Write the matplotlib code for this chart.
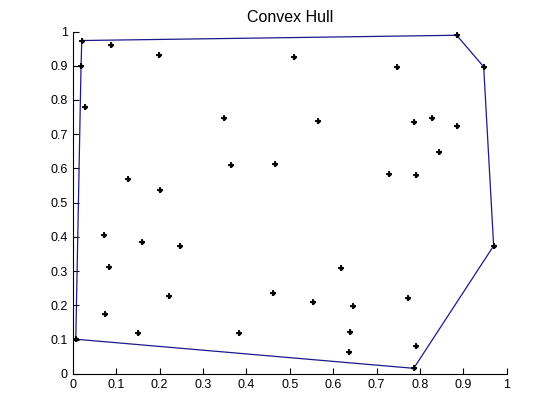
import numpy as np
import matplotlib
matplotlib.use("Agg")
import matplotlib.pyplot as plt

x = [0.0207, 0.019, 0.088, 0.028, 0.199, 0.3475, 0.364, 0.127, 0.200,
     0.8845, 0.9467, 0.509, 0.746, 0.5646, 0.7856, 0.827, 0.8845, 0.8447, 0.465, 0.728, 0.790,
     0.0069, 0.072, 0.1596, 0.246, 0.0836, 0.2217, 0.0744, 0.150, 0.3828,
     0.9697, 0.7856, 0.618, 0.461, 0.553, 0.645, 0.7718, 0.638, 0.790, 0.636]
y = [0.9736, 0.900, 0.962, 0.780, 0.932, 0.747, 0.609, 0.568, 0.536,
     0.989, 0.897, 0.9265, 0.897, 0.7385, 0.7356, 0.747, 0.724, 0.6475, 0.612, 0.583, 0.580,
     0.101, 0.4066, 0.386, 0.374, 0.3125, 0.2273, 0.1744, 0.1186, 0.1186,
     0.374, 0.016, 0.3096, 0.236, 0.2097, 0.198, 0.2215, 0.1216, 0.0805, 0.063]
ticks = [0, 0.1, 0.2, 0.3, 0.4, 0.5, 0.6, 0.7, 0.8, 0.9, 1]
tick_labels = ["0", "0.1", "0.2", "0.3", "0.4", "0.5", "0.6", "0.7", "0.8", "0.9", "1"]


def convex_hull(px, py):
    pts = sorted(zip(px, py))

    def cross(o, a, b):
        return (a[0] - o[0]) * (b[1] - o[1]) - (a[1] - o[1]) * (b[0] - o[0])

    lower = []
    for p in pts:
        while len(lower) >= 2 and cross(lower[-2], lower[-1], p) <= 0:
            lower.pop()
        lower.append(p)
    upper = []
    for p in reversed(pts):
        while len(upper) >= 2 and cross(upper[-2], upper[-1], p) <= 0:
            upper.pop()
        upper.append(p)
    hull = lower[:-1] + upper[:-1]
    hull.append(hull[0])
    return [p[0] for p in hull], [p[1] for p in hull]


plt.rcParams['font.family'] = ['Liberation Sans', 'DejaVu Sans']
fig = plt.figure(figsize=(5.6, 4.2), dpi=100)
ax = fig.add_axes([0.13, 0.11, 0.775, 0.815])

hx, hy = convex_hull(x, y)
ax.plot(hx, hy, color='#1a1a8c', linewidth=0.9)
ax.plot(x, y, linestyle='none', marker='+', markersize=4.5, markeredgewidth=1.3, color='black')
ax.plot(x, y, linestyle='none', marker='D', markersize=1.8, color='black')

ax.set_xlim(0, 1)
ax.set_ylim(0, 1)
ax.set_xticks(ticks)
ax.set_xticklabels(tick_labels)
ax.set_yticks(ticks)
ax.set_yticklabels(tick_labels)
ax.tick_params(direction='in', length=4, labelsize=9, width=0.8)
ax.spines['top'].set_visible(False)
ax.spines['right'].set_visible(False)
ax.set_title("Convex Hull", fontsize=11.5, pad=7)

fig.savefig("out.png", dpi=100)
